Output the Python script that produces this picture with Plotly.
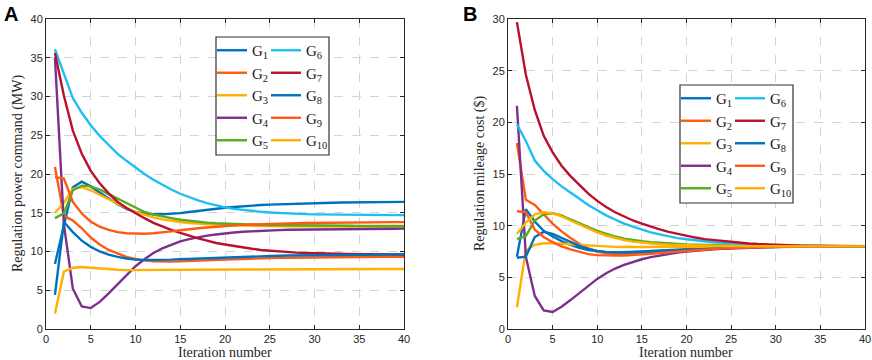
import plotly.graph_objects as go

iterations = list(range(1, 41))
names = ["G<sub>1</sub>", "G<sub>2</sub>", "G<sub>3</sub>", "G<sub>4</sub>", "G<sub>5</sub>",
         "G<sub>6</sub>", "G<sub>7</sub>", "G<sub>8</sub>", "G<sub>9</sub>", "G<sub>10</sub>"]
colors = ["#0072BD", "#FF5A14", "#FFB000", "#7E2F8E", "#5AAA1E",
          "#1EBFF0", "#B8102E", "#0072BD", "#FF5A14", "#FFB000"]

x_ticks = [0, 5, 10, 15, 20, 25, 30, 35, 40]
yA_ticks = [0, 5, 10, 15, 20, 25, 30, 35, 40]
yB_ticks = [0, 5, 10, 15, 20, 25, 30]

# Panel A: regulation power command (MW)
A_G1 = [8.4, 13.5, 18.3, 19.0, 18.4, 17.6, 16.8, 16.1, 15.5, 15.1,
        14.9, 14.8, 14.8, 14.85, 14.95, 15.1, 15.25, 15.4, 15.55, 15.65,
        15.75, 15.85, 15.92, 16.0, 16.05, 16.1, 16.15, 16.2, 16.22, 16.25,
        16.28, 16.3, 16.32, 16.33, 16.35, 16.36, 16.37, 16.38, 16.39, 16.4]
A_G2 = [20.9, 14.6, 14.0, 13.0, 11.8, 10.9, 10.2, 9.7, 9.3, 9.05,
        8.85, 8.75, 8.7, 8.7, 8.72, 8.75, 8.8, 8.85, 8.9, 8.95,
        9.0, 9.05, 9.08, 9.12, 9.15, 9.18, 9.2, 9.22, 9.24, 9.26,
        9.27, 9.28, 9.29, 9.3, 9.3, 9.31, 9.31, 9.32, 9.32, 9.32]
A_G3 = [15.0, 16.3, 18.1, 18.3, 17.9, 17.3, 16.7, 16.1, 15.6, 15.1,
        14.7, 14.4, 14.15, 13.95, 13.8, 13.68, 13.58, 13.5, 13.44, 13.4,
        13.36, 13.33, 13.3, 13.28, 13.26, 13.25, 13.24, 13.23, 13.22, 13.22,
        13.21, 13.21, 13.2, 13.2, 13.2, 13.2, 13.2, 13.2, 13.2, 13.2]
A_G4 = [35.0, 13.5, 5.2, 2.9, 2.7, 3.5, 4.6, 5.8, 7.0, 8.1,
        9.0, 9.8, 10.4, 10.9, 11.3, 11.6, 11.85, 12.05, 12.2, 12.35,
        12.45, 12.55, 12.62, 12.68, 12.72, 12.76, 12.8, 12.82, 12.84, 12.86,
        12.87, 12.88, 12.89, 12.9, 12.9, 12.91, 12.92, 12.93, 12.94, 12.95]
A_G5 = [14.3, 14.9, 17.9, 18.5, 18.4, 18.0, 17.4, 16.8, 16.2, 15.6,
        15.1, 14.75, 14.5, 14.3, 14.1, 13.95, 13.82, 13.72, 13.64, 13.58,
        13.53, 13.49, 13.46, 13.43, 13.41, 13.39, 13.37, 13.36, 13.35, 13.34,
        13.33, 13.33, 13.32, 13.32, 13.31, 13.31, 13.3, 13.3, 13.3, 13.3]
A_G6 = [36.1, 32.9, 29.8, 27.9, 26.3, 24.9, 23.7, 22.6, 21.7, 20.8,
        20.0, 19.25, 18.6, 18.0, 17.45, 17.0, 16.6, 16.25, 15.95, 15.7,
        15.5, 15.35, 15.22, 15.12, 15.04, 14.97, 14.91, 14.86, 14.82, 14.79,
        14.77, 14.75, 14.73, 14.72, 14.71, 14.7, 14.7, 14.7, 14.7, 14.7]
A_G7 = [35.6, 30.1, 25.6, 22.6, 20.4, 18.8, 17.5, 16.4, 15.6, 14.9,
        14.3, 13.7, 13.2, 12.8, 12.4, 12.0, 11.7, 11.4, 11.1, 10.9,
        10.7, 10.5, 10.35, 10.2, 10.1, 10.0, 9.92, 9.86, 9.81, 9.77,
        9.74, 9.71, 9.69, 9.67, 9.66, 9.65, 9.64, 9.63, 9.62, 9.62]
A_G8 = [4.4, 13.8, 12.5, 11.4, 10.6, 10.0, 9.6, 9.3, 9.1, 8.95,
        8.9, 8.9, 8.92, 8.95, 9.0, 9.05, 9.1, 9.15, 9.2, 9.25,
        9.3, 9.33, 9.36, 9.4, 9.43, 9.46, 9.48, 9.5, 9.52, 9.54,
        9.55, 9.56, 9.57, 9.58, 9.59, 9.6, 9.6, 9.6, 9.6, 9.6]
A_G9 = [19.6, 19.4, 16.4, 14.9, 13.85, 13.2, 12.8, 12.5, 12.35, 12.3,
        12.3, 12.35, 12.45, 12.6, 12.75, 12.9, 13.0, 13.1, 13.2, 13.3,
        13.37, 13.43, 13.48, 13.53, 13.57, 13.6, 13.63, 13.66, 13.68, 13.7,
        13.72, 13.73, 13.74, 13.75, 13.76, 13.77, 13.78, 13.78, 13.79, 13.79]
A_G10 = [2.0, 7.4, 7.9, 8.0, 7.9, 7.8, 7.7, 7.65, 7.6, 7.6,
         7.58, 7.58, 7.58, 7.6, 7.6, 7.62, 7.63, 7.64, 7.65, 7.66,
         7.67, 7.68, 7.69, 7.7, 7.7, 7.71, 7.71, 7.72, 7.72, 7.73,
         7.73, 7.73, 7.74, 7.74, 7.74, 7.75, 7.75, 7.75, 7.75, 7.75]

# Panel B: regulation mileage cost ($)
B_G1 = [7.0, 11.6, 10.4, 9.5, 8.95, 8.5, 8.15, 7.85, 7.65, 7.5,
        7.42, 7.4, 7.42, 7.45, 7.5, 7.55, 7.6, 7.65, 7.7, 7.74,
        7.78, 7.81, 7.84, 7.87, 7.89, 7.91, 7.93, 7.94, 7.95, 7.96,
        7.97, 7.98, 7.98, 7.99, 7.99, 8.0, 8.0, 8.0, 8.0, 8.0]
B_G2 = [18.0, 12.5, 12.0, 11.1, 10.2, 9.45, 8.8, 8.25, 7.8, 7.5,
        7.32, 7.25, 7.25, 7.28, 7.33, 7.4, 7.47, 7.54, 7.6, 7.66,
        7.71, 7.76, 7.8, 7.84, 7.87, 7.9, 7.92, 7.94, 7.95, 7.96,
        7.97, 7.98, 7.98, 7.99, 7.99, 8.0, 8.0, 8.0, 8.0, 8.0]
B_G3 = [2.1, 7.6, 8.15, 8.3, 8.3, 8.25, 8.18, 8.1, 8.05, 8.0,
        7.97, 7.95, 7.94, 7.94, 7.94, 7.95, 7.95, 7.96, 7.96, 7.97,
        7.97, 7.97, 7.98, 7.98, 7.98, 7.98, 7.99, 7.99, 7.99, 7.99,
        7.99, 8.0, 8.0, 8.0, 8.0, 8.0, 8.0, 8.0, 8.0, 8.0]
B_G4 = [21.6, 7.0, 3.2, 1.8, 1.65, 2.15, 2.8, 3.5, 4.2, 4.85,
        5.4, 5.85, 6.2, 6.5, 6.75, 6.95, 7.12, 7.27, 7.4, 7.5,
        7.59, 7.66, 7.72, 7.77, 7.81, 7.85, 7.88, 7.9, 7.92, 7.94,
        7.95, 7.96, 7.97, 7.98, 7.98, 7.99, 7.99, 8.0, 8.0, 8.0]
B_G5 = [8.7, 9.0, 10.5, 11.1, 11.2, 11.0, 10.6, 10.2, 9.85, 9.5,
        9.2, 8.95, 8.75, 8.6, 8.5, 8.4, 8.33, 8.27, 8.22, 8.18,
        8.15, 8.12, 8.1, 8.08, 8.07, 8.06, 8.05, 8.04, 8.03, 8.03,
        8.02, 8.02, 8.01, 8.01, 8.01, 8.0, 8.0, 8.0, 8.0, 8.0]
B_G6 = [19.8, 18.2, 16.3, 15.3, 14.5, 13.8, 13.2, 12.6, 12.0, 11.5,
        11.0, 10.6, 10.2, 9.9, 9.6, 9.35, 9.15, 8.95, 8.8, 8.68,
        8.57, 8.48, 8.4, 8.33, 8.27, 8.22, 8.18, 8.15, 8.12, 8.1,
        8.08, 8.06, 8.05, 8.04, 8.03, 8.02, 8.02, 8.01, 8.01, 8.01]
B_G7 = [29.7, 24.6, 21.2, 18.7, 17.1, 15.8, 14.8, 13.9, 13.1, 12.4,
        11.8, 11.3, 10.9, 10.5, 10.2, 9.9, 9.65, 9.4, 9.2, 9.0,
        8.85, 8.7, 8.6, 8.5, 8.4, 8.33, 8.27, 8.22, 8.18, 8.14,
        8.11, 8.09, 8.07, 8.06, 8.05, 8.04, 8.03, 8.03, 8.02, 8.02]
B_G8 = [6.9, 7.0, 8.9, 9.4, 9.2, 8.8, 8.4, 8.05, 7.75, 7.55,
        7.45, 7.4, 7.4, 7.43, 7.47, 7.52, 7.57, 7.62, 7.67, 7.71,
        7.75, 7.79, 7.82, 7.85, 7.88, 7.9, 7.92, 7.94, 7.95, 7.96,
        7.97, 7.98, 7.98, 7.99, 7.99, 8.0, 8.0, 8.0, 8.0, 8.0]
B_G9 = [11.4, 11.3, 9.6, 8.9, 8.4, 8.0, 7.7, 7.45, 7.25, 7.15,
        7.1, 7.1, 7.12, 7.15, 7.2, 7.27, 7.35, 7.42, 7.5, 7.57,
        7.63, 7.7, 7.75, 7.8, 7.84, 7.88, 7.9, 7.92, 7.94, 7.95,
        7.96, 7.97, 7.98, 7.98, 7.99, 7.99, 8.0, 8.0, 8.0, 8.0]
B_G10 = [9.2, 10.3, 11.1, 11.3, 11.2, 10.9, 10.5, 10.1, 9.7, 9.35,
         9.05, 8.8, 8.6, 8.45, 8.35, 8.27, 8.2, 8.15, 8.12, 8.09,
         8.07, 8.05, 8.04, 8.03, 8.02, 8.02, 8.01, 8.01, 8.01, 8.0,
         8.0, 8.0, 8.0, 8.0, 8.0, 8.0, 8.0, 8.0, 8.0, 8.0]

series_A = [A_G1, A_G2, A_G3, A_G4, A_G5, A_G6, A_G7, A_G8, A_G9, A_G10]
series_B = [B_G1, B_G2, B_G3, B_G4, B_G5, B_G6, B_G7, B_G8, B_G9, B_G10]

W, H = 872, 360
def px(x):
    return x / W
def py(y):
    return 1 - y / H

fig = go.Figure()
for i in range(10):
    fig.add_trace(go.Scatter(
        x=iterations, y=series_A[i], mode="lines", name=names[i],
        line=dict(color=colors[i], width=2.4),
        xaxis="x", yaxis="y",
        legend="legend" if i < 5 else "legend2",
        legendgroup="A%d" % i))
for i in range(10):
    fig.add_trace(go.Scatter(
        x=iterations, y=series_B[i], mode="lines", name=names[i],
        line=dict(color=colors[i], width=2.4),
        xaxis="x2", yaxis="y2",
        legend="legend3" if i < 5 else "legend4",
        legendgroup="B%d" % i))

tick_font = dict(family="Liberation Sans, Arial, sans-serif", size=11, color="#262626")
title_font = dict(family="Liberation Serif, Times New Roman, serif", size=14, color="#262626")
axis_common = dict(
    showline=True, linecolor="#262626", linewidth=1, mirror="ticks",
    ticks="inside", ticklen=4, tickcolor="#262626",
    showgrid=True, gridcolor="#d4d4d4", griddash="dash", gridwidth=1,
    zeroline=False, tickfont=tick_font, automargin=False,
)

leg_font = dict(family="Liberation Serif, Times New Roman, serif", size=15, color="#1a1a1a")
def legend_at(x, y):
    return dict(x=px(x), y=py(y), xanchor="left", yanchor="top",
                bgcolor="rgba(0,0,0,0)", borderwidth=0, font=leg_font,
                tracegroupgap=0, itemwidth=30)

def title_ann(text, x, y, angle=0):
    return dict(text=text, x=px(x), y=py(y), xref="paper", yref="paper",
                xanchor="center", yanchor="middle", showarrow=False, textangle=angle,
                font=title_font)

fig.update_layout(
    template="none",
    width=W, height=H, margin=dict(l=0, r=0, t=0, b=0, autoexpand=False),
    paper_bgcolor="white", plot_bgcolor="white",
    xaxis=dict(domain=[px(46), px(404)], range=[0, 40], tickvals=x_ticks, anchor="y", **axis_common),
    yaxis=dict(domain=[py(329), py(19)], range=[0, 40], tickvals=yA_ticks, anchor="x", **axis_common),
    xaxis2=dict(domain=[px(508), px(865)], range=[0, 40], tickvals=x_ticks, anchor="y2", **axis_common),
    yaxis2=dict(domain=[py(329), py(19)], range=[0, 30], tickvals=yB_ticks, anchor="x2", **axis_common),
    legend=legend_at(212, 34),
    legend2=legend_at(266, 34),
    legend3=legend_at(676, 82),
    legend4=legend_at(730, 82),
    showlegend=True,
    shapes=[
        dict(type="rect", xref="paper", yref="paper", x0=px(216), x1=px(329), y0=py(155), y1=py(37),
             fillcolor="white", line=dict(color="#333333", width=1.2), layer="above"),
        dict(type="rect", xref="paper", yref="paper", x0=px(680), x1=px(793), y0=py(203), y1=py(85),
             fillcolor="white", line=dict(color="#333333", width=1.2), layer="above"),
    ],
    annotations=[
        dict(text="<b>A</b>", x=px(2), y=py(1), xref="paper", yref="paper", xanchor="left", yanchor="top",
             showarrow=False, font=dict(family="Liberation Sans, Arial, sans-serif", size=20, color="black")),
        dict(text="<b>B</b>", x=px(461), y=py(1), xref="paper", yref="paper", xanchor="left", yanchor="top",
             showarrow=False, font=dict(family="Liberation Sans, Arial, sans-serif", size=20, color="black")),
        title_ann("Iteration number", 225, 352),
        title_ann("Iteration number", 686, 352),
        title_ann("Regulation power command (MW)", 18, 174, -90),
        title_ann("Regulation mileage cost ($)", 480, 174, -90),
    ],
)

fig.write_html("out.html", config={"displayModeBar": False},
               post_script="document.body.style.margin='0px';document.body.style.padding='0px';")
